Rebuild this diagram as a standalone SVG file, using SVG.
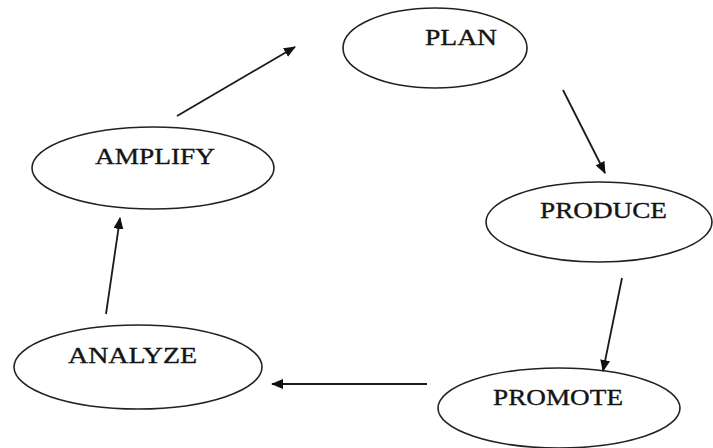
<svg xmlns="http://www.w3.org/2000/svg" width="713" height="448" viewBox="0 0 713 448">
<style>
.node ellipse{fill:#fff;stroke:#222;stroke-width:1.6}
.node text{font-family:"Liberation Serif","Times New Roman",serif;font-size:23px;fill:#141414;stroke:#141414;stroke-width:0.35;text-anchor:middle}
.edge{stroke:#1a1a1a;stroke-width:1.8;fill:none;marker-end:url(#ah)}
</style>
<defs>
<marker id="ah" viewBox="0 0 12 10" refX="11" refY="5" markerWidth="12" markerHeight="10" markerUnits="userSpaceOnUse" orient="auto">
<path d="M0,0 L12,5 L0,10 z" fill="#111"/>
</marker>
</defs>
<rect width="713" height="448" fill="#fff"/>
<g id="plan" class="node"><ellipse cx="435" cy="48" rx="92" ry="40"/><text x="461" y="45" textLength="72" lengthAdjust="spacingAndGlyphs">PLAN</text></g>
<g id="amplify" class="node"><ellipse cx="153" cy="168" rx="121" ry="41"/><text x="155" y="164" textLength="120" lengthAdjust="spacingAndGlyphs">AMPLIFY</text></g>
<g id="produce" class="node"><ellipse cx="599" cy="222" rx="113" ry="40"/><text x="603.5" y="218" textLength="127" lengthAdjust="spacingAndGlyphs">PRODUCE</text></g>
<g id="analyze" class="node"><ellipse cx="138" cy="367" rx="124" ry="42"/><text x="132.5" y="363" textLength="129" lengthAdjust="spacingAndGlyphs">ANALYZE</text></g>
<g id="promote" class="node"><ellipse cx="559" cy="408" rx="121" ry="40"/><text x="558" y="405" textLength="130" lengthAdjust="spacingAndGlyphs">PROMOTE</text></g>
<g id="connectors">
<line class="edge" x1="177" y1="116" x2="295" y2="47"/>
<line class="edge" x1="563" y1="90" x2="605" y2="173"/>
<line class="edge" x1="622" y1="278" x2="603" y2="371"/>
<line class="edge" x1="427" y1="384" x2="272" y2="384"/>
<line class="edge" x1="106" y1="314" x2="120" y2="218"/>
</g>
</svg>
